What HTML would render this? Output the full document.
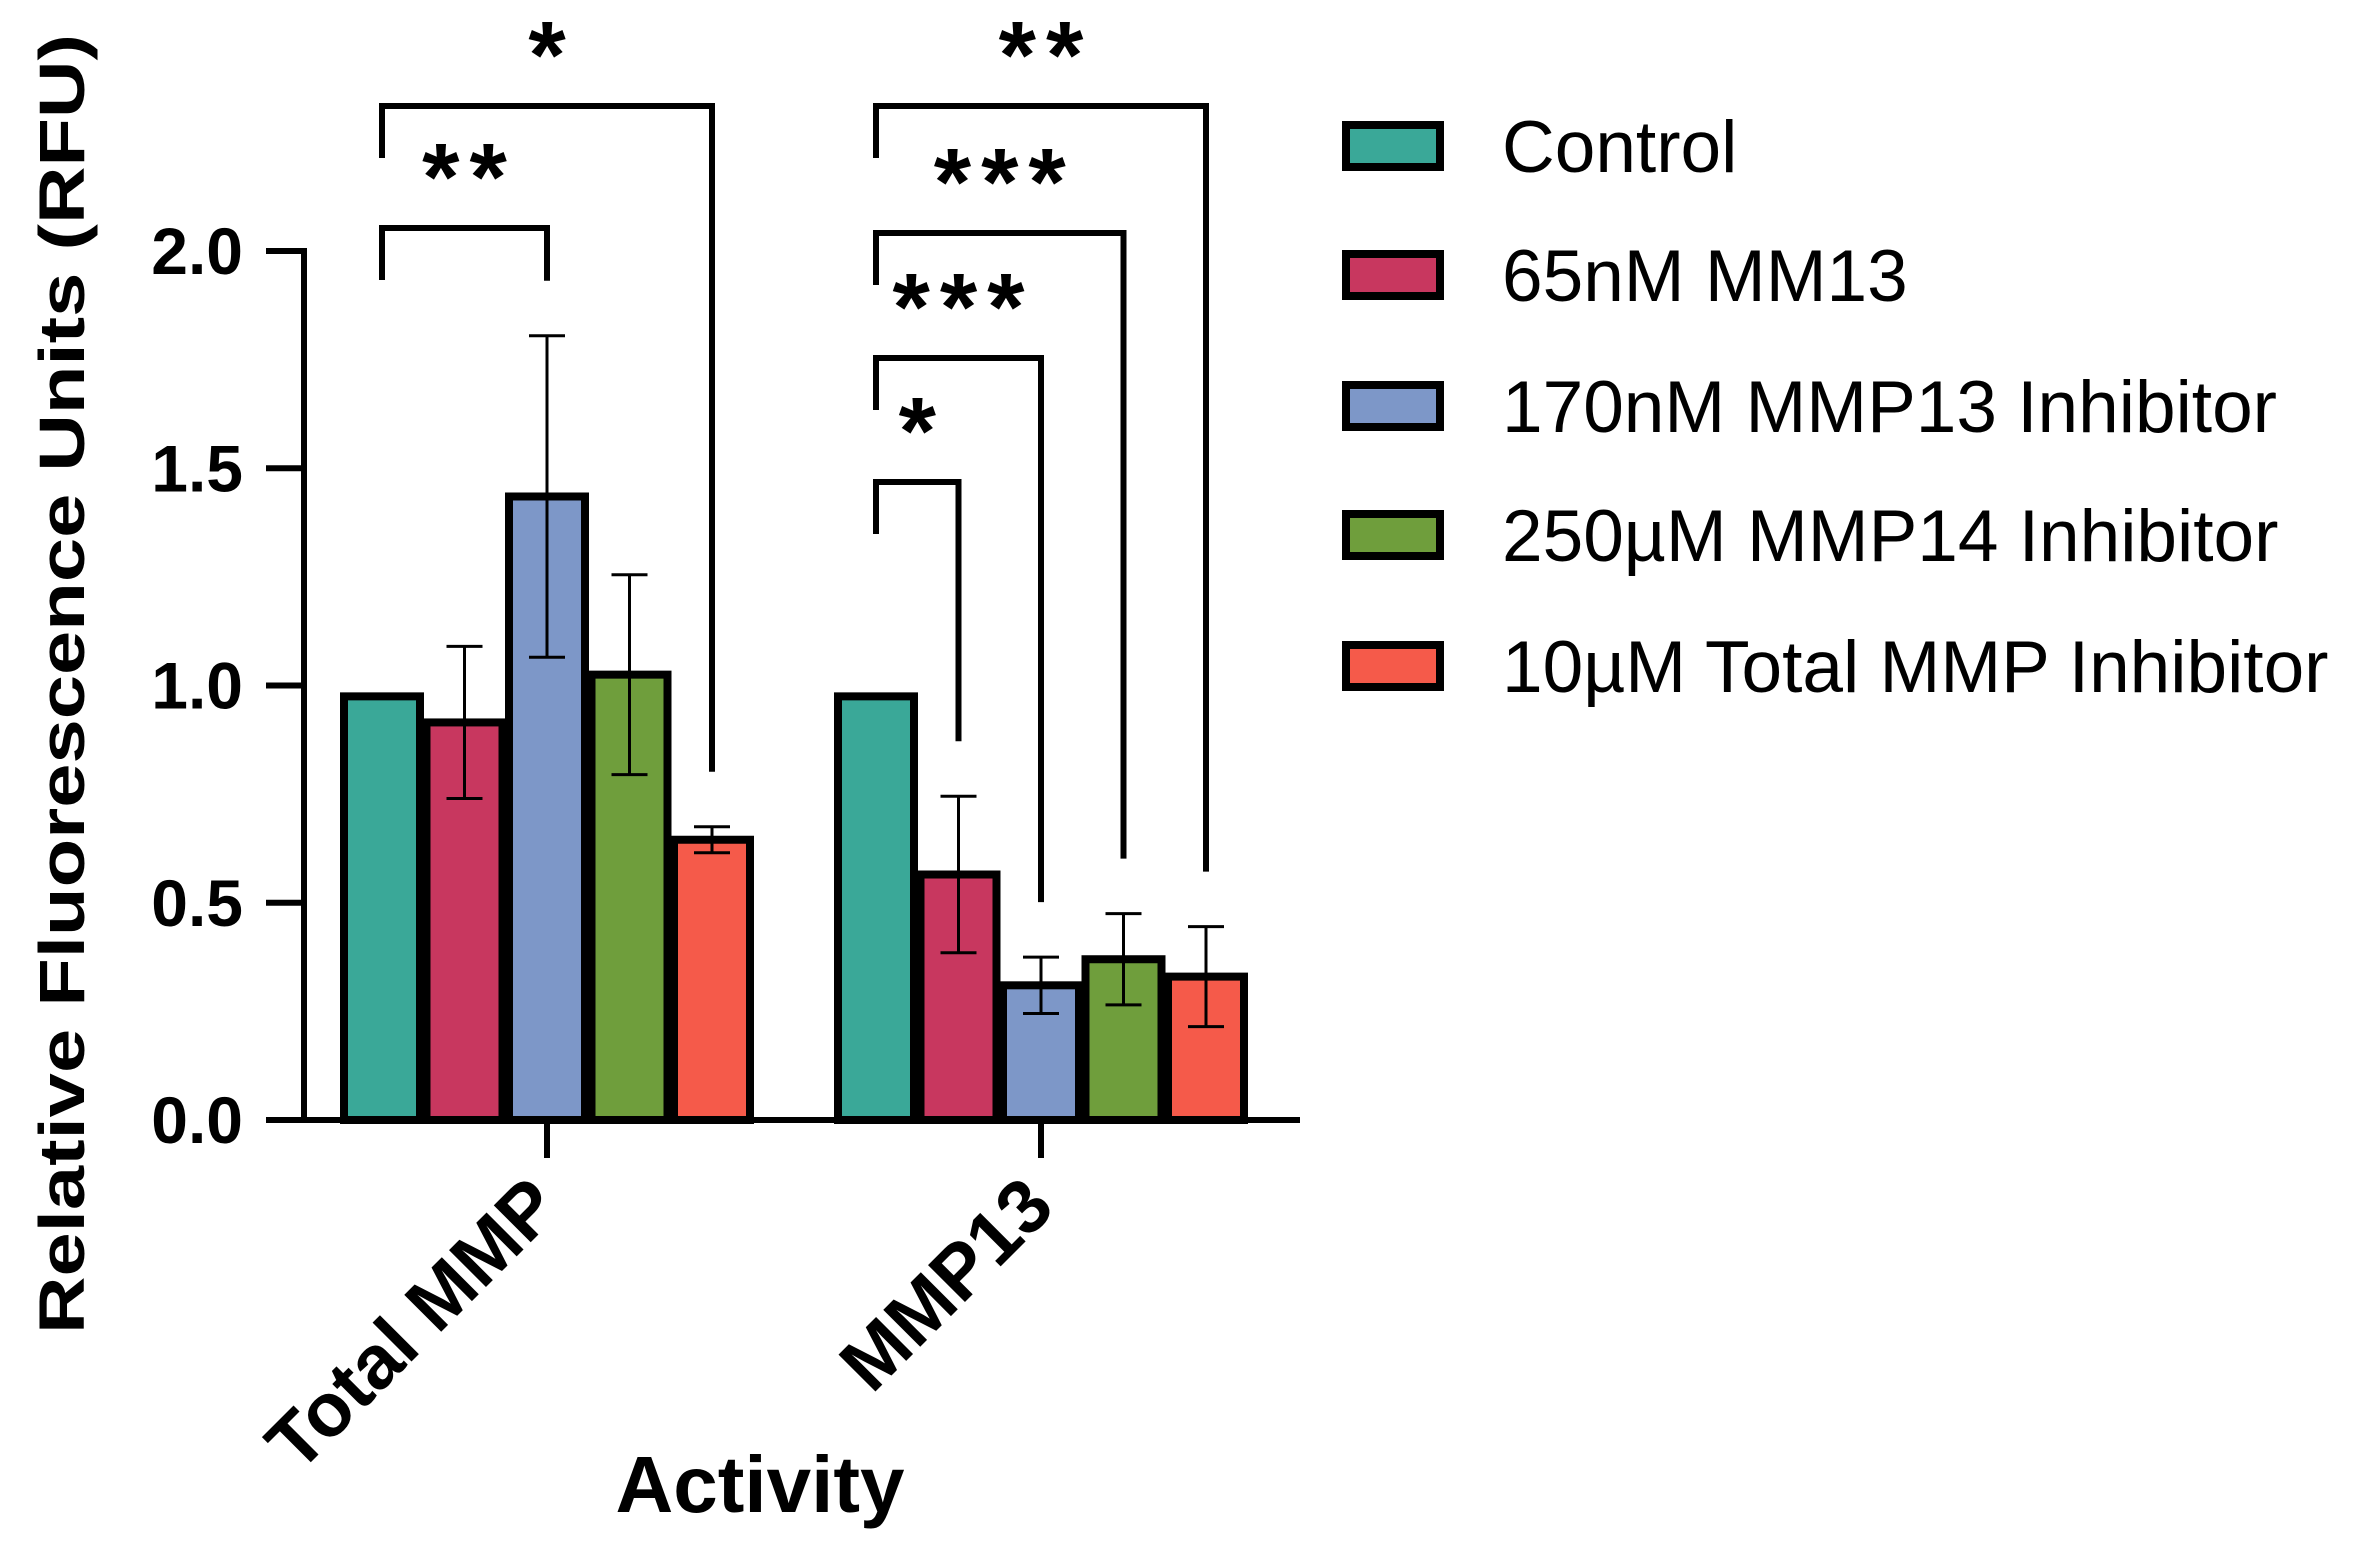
<!DOCTYPE html>
<html><head><meta charset="utf-8"><style>
html,body{margin:0;padding:0;background:#fff;}
svg{display:block;font-family:"Liberation Sans",Arial,sans-serif;}
</style></head><body>
<svg id="chart" width="2365" height="1546" viewBox="0 0 2365 1546" xmlns="http://www.w3.org/2000/svg"></svg>
<script>
const categories = ["Total MMP", "MMP13"];
const seriesNames = ["Control", "65nM MM13", "170nM MMP13 Inhibitor", "250\u00b5M MMP14 Inhibitor", "10\u00b5M Total MMP Inhibitor"];
const seriesColors = ["#3aa898", "#c8375f", "#7d97c8", "#6f9e3c", "#f55a4a"];
const totalMmpValues = [0.975, 0.915, 1.435, 1.025, 0.645];
const totalMmpErrors = [0.005, 0.175, 0.37, 0.23, 0.03];
const mmp13Values = [0.975, 0.565, 0.31, 0.37, 0.33];
const mmp13Errors = [0.005, 0.18, 0.065, 0.105, 0.115];
const yTicks = [0, 0.5, 1.0, 1.5, 2.0];
const yTickLabels = ["0.0", "0.5", "1.0", "1.5", "2.0"];
// significance brackets: [category, fromSeries, toSeries, label, level]
const brackets = [
  [0, 0, 2, "**", 1], [0, 0, 4, "*", 0],
  [1, 0, 1, "*", 3], [1, 0, 2, "***", 2], [1, 0, 3, "***", 1], [1, 0, 4, "**", 0]
];

const NS = "http://www.w3.org/2000/svg";
const svg = document.getElementById("chart");
const X0 = 304, Y0 = 1120, PXU = 434.5;
const yScale = v => Y0 - v * PXU;
const groupStart = [344, 838];
const barW = 76, barStep = 82.5;
const barX = (g, s) => groupStart[g] + s * barStep;
const groupCenter = g => barX(g, 2) + barW / 2;

function el(tag, attrs, parent) {
  const e = document.createElementNS(NS, tag);
  for (const k in attrs) e.setAttribute(k, attrs[k]);
  (parent || svg).appendChild(e);
  return e;
}

const yAxis = el("line", {x1: X0, y1: yScale(2.0) - 3, x2: X0, y2: Y0 + 3, stroke: "#000", "stroke-width": 6});


const xAxis = el("line", {x1: X0 - 3, y1: Y0, x2: 1300, y2: Y0, stroke: "#000", "stroke-width": 6});



yTicks.forEach((t, i) => {
  const tk = el("line", {x1: 266, y1: yScale(t), x2: X0, y2: yScale(t), stroke: "#000", "stroke-width": 6});
  
  
  const lb = el("text", {x: 243, y: yScale(t) + 23, "text-anchor": "end", "font-size": 66, "font-weight": "bold"});
  lb.textContent = yTickLabels[i];
  
  
});

const yTitle = el("text", {x: 0, y: 0, transform: "translate(84,684) rotate(-90)", "text-anchor": "middle", "font-size": 64, "font-weight": "bold", textLength: 1300, lengthAdjust: "spacingAndGlyphs"});
yTitle.textContent = "Relative Fluorescence Units (RFU)";



[[totalMmpValues, totalMmpErrors], [mmp13Values, mmp13Errors]].forEach((pair, g) => {
  const vals = pair[0], errs = pair[1];
  vals.forEach((v, s) => {
    const x = barX(g, s);
    const b = el("rect", {x: x, y: yScale(v), width: barW, height: Y0 - yScale(v), fill: seriesColors[s], stroke: "#000", "stroke-width": 8});
    
    
    const cx = x + barW / 2, lo = yScale(v - errs[s]), hi = yScale(v + errs[s]);
    const eb = el("path", {d: `M${cx},${lo}V${hi}M${cx - 18},${hi}H${cx + 18}M${cx - 18},${lo}H${cx + 18}`, stroke: "#000", "stroke-width": 3, fill: "none"});
    
    
  });
  const cx = groupCenter(g);
  const xt = el("line", {x1: cx, y1: Y0, x2: cx, y2: 1158, stroke: "#000", "stroke-width": 6});
  
  
  const cl = el("text", {x: 0, y: 0, transform: `translate(${cx + 16},${1210}) rotate(-45)`, "text-anchor": "end", "font-size": 76, "font-weight": "bold"});
  cl.textContent = categories[g];
  
  
});

const xTitle = el("text", {x: 760, y: 1512, "text-anchor": "middle", "font-size": 80, "font-weight": "bold"});
xTitle.textContent = "Activity";



brackets.forEach(br => {
  const g = br[0];
  const vals = g === 0 ? totalMmpValues : mmp13Values;
  const errs = g === 0 ? totalMmpErrors : mmp13Errors;
  const topY = g === 0 ? [106, 228][br[4]] : [106, 233, 358, 482][br[4]];
  const x1 = barX(g, br[1]) + barW / 2, x2 = barX(g, br[2]) + barW / 2;
  const leftEnd = topY + 52;
  const rightEnd = yScale(vals[br[2]] + errs[br[2]]) - 55;
  const p = el("path", {d: `M${x1},${leftEnd}V${topY}H${x2}V${rightEnd}`, stroke: "#000", "stroke-width": 6, fill: "none"});
  
  
  const t = el("text", {x: (x1 + x2) / 2 + 5, y: topY - 18, "text-anchor": "middle", "font-size": 96, "font-weight": "bold", "letter-spacing": 10});
  t.textContent = br[3];
  
  
});

const legendY = [146, 275, 406, 535, 666];
seriesNames.forEach((n, i) => {
  const g = el("g", {});
  
  
  const r = el("rect", {x: 1346, y: legendY[i] - 21, width: 94, height: 42, fill: seriesColors[i], stroke: "#000", "stroke-width": 8}, g);
  
  
  const t = el("text", {x: 1502, y: legendY[i] + 26, "font-size": 73}, g);
  t.textContent = n;
  
  
});
</script>
</body></html>
